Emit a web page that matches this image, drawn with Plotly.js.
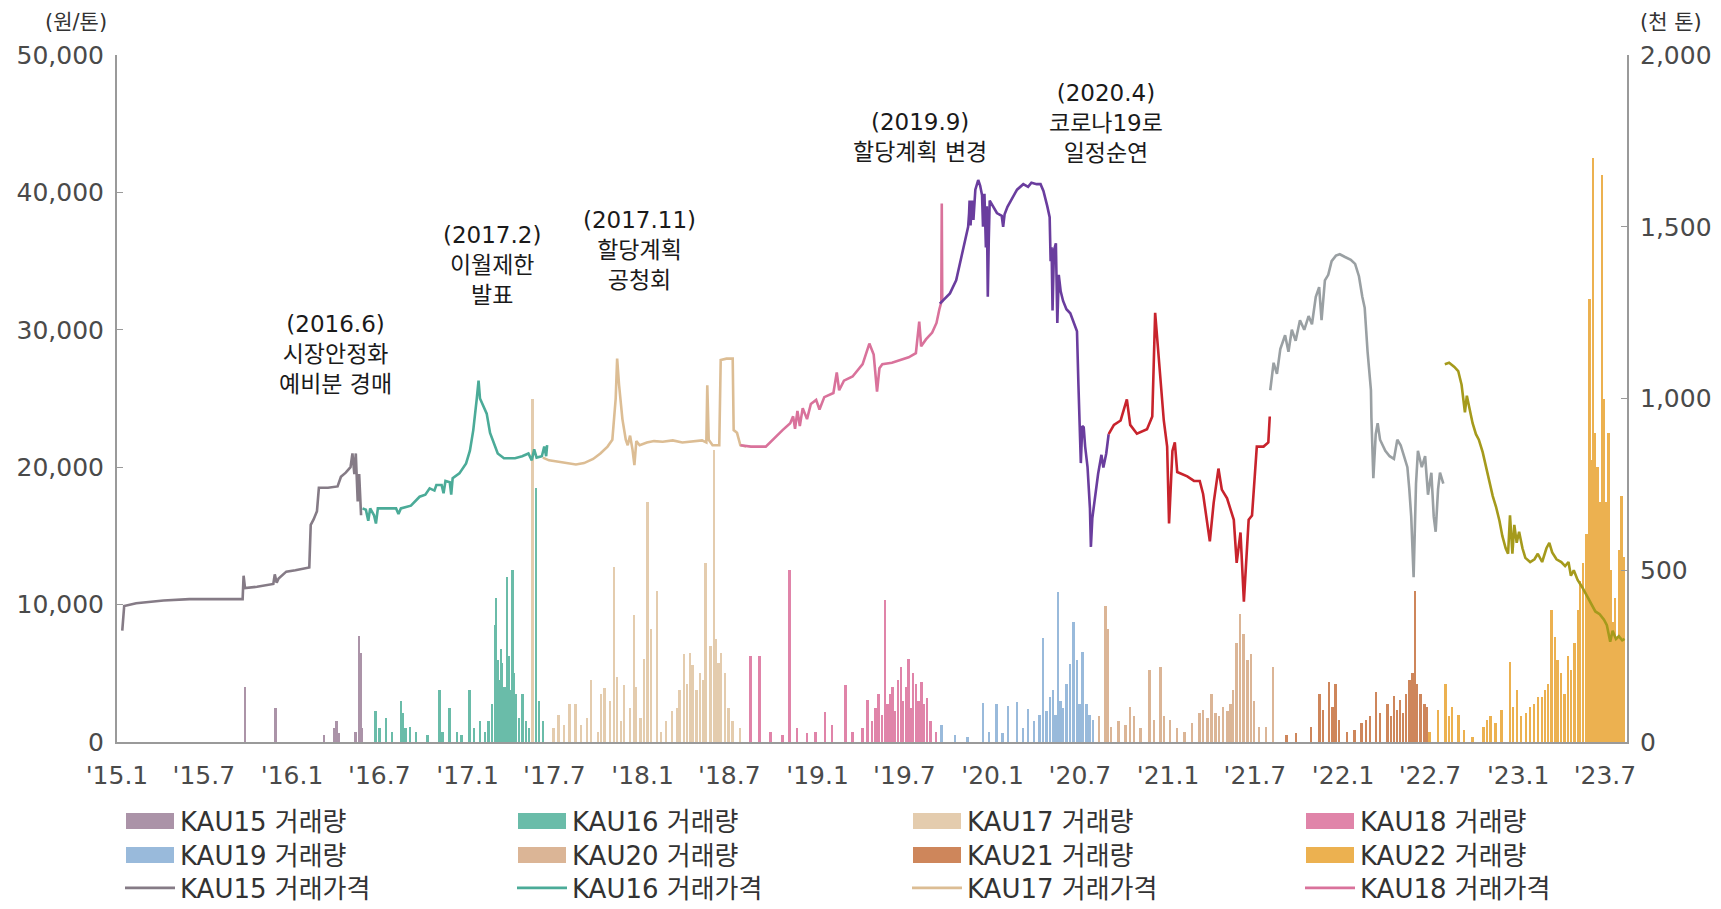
<!DOCTYPE html>
<html><head><meta charset="utf-8">
<script src="https://cdn.plot.ly/plotly-3.0.1.min.js"></script>
<style>html,body{margin:0;padding:0;overflow:hidden;background:#fff}#chart{width:1721px;height:909px}</style>
</head><body><div id="chart"></div>
<script>
// ---------------- DATA ----------------
const vintages = ['KAU15','KAU16','KAU17','KAU18','KAU19','KAU20','KAU21','KAU22'];
const xTickVals = ['2015-01-01','2015-07-01','2016-01-01','2016-07-01','2017-01-01','2017-07-01','2018-01-01','2018-07-01','2019-01-01','2019-07-01','2020-01-01','2020-07-01','2021-01-01','2021-07-01','2022-01-01','2022-07-01','2023-01-01','2023-07-01'];
const xTickText = ["'15.1","'15.7","'16.1","'16.7","'17.1","'17.7","'18.1","'18.7","'19.1","'19.7","'20.1","'20.7","'21.1","'21.7","'22.1","'22.7","'23.1","'23.7"];
const priceTicks = [0,10000,20000,30000,40000,50000];
const volTicks = [0,500,1000,1500,2000];

// price (원/톤)
const kau15PriceDates = ['2015-01-12','2015-01-16','2015-02-10','2015-04-08','2015-06-01','2015-08-01','2015-09-20','2015-09-22','2015-09-25','2015-10-20','2015-11-23','2015-11-26','2015-11-30','2015-12-04','2015-12-20','2016-01-08','2016-02-06','2016-02-09','2016-02-15','2016-02-22','2016-02-26','2016-03-16','2016-04-05','2016-04-12','2016-04-22','2016-05-02','2016-05-06','2016-05-10','2016-05-13','2016-05-17','2016-05-20','2016-05-24'];
const kau15Price = [8100,9900,10100,10300,10400,10400,10400,12100,11200,11300,11500,12200,11600,11900,12400,12500,12700,15800,16200,16800,18500,18500,18600,19300,19600,20000,21000,19500,21000,17500,19500,16500];

const kau16PriceDates = ['2016-05-27','2016-06-03','2016-06-08','2016-06-12','2016-06-20','2016-06-24','2016-06-28','2016-07-20','2016-08-05','2016-08-10','2016-08-15','2016-09-05','2016-09-23','2016-10-05','2016-10-14','2016-10-24','2016-10-28','2016-11-08','2016-11-12','2016-11-16','2016-11-25','2016-11-28','2016-12-01','2016-12-15','2016-12-29','2017-01-06','2017-01-13','2017-01-20','2017-01-24','2017-01-27','2017-02-03','2017-02-10','2017-02-17','2017-03-05','2017-03-18','2017-04-10','2017-04-25','2017-05-08','2017-05-15','2017-05-20','2017-05-25','2017-06-05','2017-06-10','2017-06-14','2017-06-16'];
const kau16Price = [17000,16900,16100,17000,16500,15900,17000,17000,17000,16600,17000,17200,17850,18000,18460,18300,18700,18700,18100,19000,18900,18000,19200,19550,20280,21200,22700,24900,26300,25000,24400,23900,22500,21000,20650,20650,20800,21000,20500,21300,20700,20800,21500,20800,21600];

const kau17PriceDates = ['2017-06-07','2017-06-20','2017-07-10','2017-07-25','2017-08-15','2017-09-01','2017-09-20','2017-10-05','2017-10-20','2017-10-30','2017-11-06','2017-11-09','2017-11-13','2017-11-20','2017-11-27','2017-12-01','2017-12-06','2017-12-11','2017-12-15','2017-12-19','2017-12-26','2018-01-10','2018-01-25','2018-02-12','2018-03-05','2018-03-25','2018-04-15','2018-05-05','2018-05-14','2018-05-16','2018-05-19','2018-05-27','2018-06-10','2018-06-13','2018-06-25','2018-07-08','2018-07-10','2018-07-17','2018-07-24','2018-08-05'];
const kau17Price = [20700,20500,20400,20300,20200,20300,20600,21000,21500,22000,25000,27900,26000,23500,22000,21600,22300,21300,20150,21900,21600,21800,21900,21850,21950,21800,21900,21950,21800,25970,22000,21600,21600,27800,27900,27900,22700,22500,21600,21500];

const kau18PriceDates = ['2018-07-24','2018-08-15','2018-09-15','2018-10-05','2018-10-20','2018-11-05','2018-11-11','2018-11-15','2018-11-20','2018-11-25','2018-12-01','2018-12-10','2018-12-18','2018-12-29','2019-01-05','2019-01-15','2019-02-03','2019-02-10','2019-02-15','2019-02-25','2019-03-15','2019-04-05','2019-04-19','2019-04-28','2019-05-05','2019-05-10','2019-05-16','2019-06-05','2019-06-21','2019-07-10','2019-07-25','2019-08-01','2019-08-05','2019-08-15','2019-08-28','2019-09-06','2019-09-12','2019-09-16','2019-09-17','2019-09-18'];
const kau18Price = [21600,21500,21500,22200,22700,23200,23700,22800,24100,23000,24300,23500,24600,24900,24200,25100,25400,26900,25600,26300,26600,27500,29000,28200,25500,27200,27500,27600,27800,28000,28300,30600,28800,29300,29800,30500,31500,32000,39200,32000];

const kau19PriceDates = ['2019-09-13','2019-10-04','2019-10-17','2019-11-01','2019-11-08','2019-11-11','2019-11-13','2019-11-14','2019-11-16','2019-11-19','2019-11-22','2019-11-26','2019-12-02','2019-12-06','2019-12-10','2019-12-12','2019-12-15','2019-12-18','2019-12-20','2019-12-22','2019-12-24','2019-12-26','2020-01-10','2020-01-20','2020-01-23','2020-01-26','2020-02-01','2020-02-12','2020-02-21','2020-03-05','2020-03-15','2020-03-22','2020-04-02','2020-04-10','2020-04-16','2020-04-24','2020-04-29','2020-05-01','2020-05-03','2020-05-05','2020-05-08','2020-05-12','2020-05-15','2020-05-18','2020-05-22','2020-05-27','2020-06-03','2020-06-11','2020-06-18','2020-06-25','2020-06-28','2020-07-01','2020-07-03','2020-07-06','2020-07-09','2020-07-12','2020-07-17','2020-07-22','2020-07-24','2020-07-27','2020-08-01','2020-08-08','2020-08-15','2020-08-19','2020-08-25','2020-08-30'];
const kau19Price = [31900,32650,33600,35800,37000,37500,38500,39400,37600,39400,38000,40200,40900,40500,39800,37500,39900,36000,39000,32400,36500,39400,38500,38300,37500,38400,38950,39700,40200,40600,40400,40700,40600,40600,40100,39000,38200,35000,36000,31400,35800,36300,30500,34000,32800,32100,31500,31200,30500,29900,26000,23200,20300,23000,22900,21500,20000,17000,14200,16300,17600,19500,20900,19970,21000,22400];

const kau20PriceDates = ['2020-08-30','2020-09-10','2020-09-24','2020-10-07','2020-10-14','2020-10-28','2020-11-18','2020-11-29','2020-12-05','2020-12-16','2020-12-23','2020-12-30','2021-01-03','2021-01-10','2021-01-15','2021-01-20','2021-02-10','2021-02-24','2021-03-08','2021-03-15','2021-03-29','2021-04-06','2021-04-16','2021-04-23','2021-05-04','2021-05-18','2021-05-24','2021-06-01','2021-06-08','2021-06-18','2021-06-25','2021-07-05','2021-07-19','2021-07-29','2021-08-01'];
const kau20Price = [22400,23080,23400,24940,23080,22440,22760,23690,31230,26200,23400,21500,15900,21190,21800,19650,19330,19000,19000,18050,14600,17400,19900,18370,17730,16170,13040,15250,10220,16170,16490,21500,21500,21800,23690];

const kau21PriceDates = ['2021-08-02','2021-08-09','2021-08-16','2021-08-23','2021-09-02','2021-09-09','2021-09-16','2021-09-24','2021-10-03','2021-10-12','2021-10-21','2021-10-28','2021-11-05','2021-11-12','2021-11-17','2021-11-24','2021-12-01','2021-12-08','2021-12-17','2021-12-25','2022-01-05','2022-01-17','2022-01-26','2022-02-03','2022-02-10','2022-02-15','2022-02-21','2022-02-28','2022-03-01','2022-03-05','2022-03-10','2022-03-14','2022-03-19','2022-03-30','2022-04-08','2022-04-17','2022-04-24','2022-05-01','2022-05-08','2022-05-15','2022-05-19','2022-05-23','2022-05-28','2022-06-02','2022-06-06','2022-06-14','2022-06-21','2022-06-27','2022-07-04','2022-07-09','2022-07-13','2022-07-18','2022-07-22','2022-07-29'];
const kau21Price = [25600,27600,26800,28600,29600,28400,30000,29200,30700,30000,31000,30400,32400,33100,30700,33600,34000,35000,35400,35500,35300,35100,34800,33900,32400,31600,28400,25600,23600,19200,22400,23200,22000,21200,20800,20600,22000,21600,20800,20000,18400,16400,12000,18800,21200,20000,20800,18000,19600,16400,15300,18400,19600,18800];

const kau22PriceDates = ['2022-08-01','2022-08-10','2022-08-21','2022-08-29','2022-09-05','2022-09-12','2022-09-16','2022-09-28','2022-10-05','2022-10-11','2022-10-19','2022-10-26','2022-11-02','2022-11-09','2022-11-16','2022-11-23','2022-11-29','2022-12-06','2022-12-11','2022-12-15','2022-12-20','2022-12-24','2022-12-29','2023-01-03','2023-01-10','2023-01-16','2023-01-26','2023-02-04','2023-02-11','2023-02-20','2023-03-01','2023-03-07','2023-03-13','2023-03-22','2023-04-01','2023-04-09','2023-04-16','2023-04-21','2023-04-27','2023-05-05','2023-05-14','2023-05-23','2023-06-01','2023-06-11','2023-06-20','2023-06-29','2023-07-05','2023-07-12','2023-07-17','2023-07-24','2023-07-30','2023-08-06','2023-08-11'];
const kau22Price = [27500,27600,27300,27000,26000,24000,25200,23200,22400,22000,21100,20000,18800,17900,17100,16100,15000,14100,13700,16500,13700,15800,14500,15300,14100,13400,13100,13300,13700,13100,14100,14500,13800,13300,13100,12800,13100,12100,12500,11800,11300,10700,10100,9500,9300,8900,8500,7300,8100,7500,7700,7400,7500];

// volume (천 톤)
const kau15VolDates = ['2015-09-25','2015-11-28','2016-03-08','2016-03-29','2016-04-03','2016-04-08','2016-05-13','2016-05-20','2016-05-24','2016-05-27'];
const kau15Vol = [160,100,20,40,60,25,30,310,260,40];

const kau16VolDates = ['2016-06-24','2016-07-02','2016-07-15','2016-07-28','2016-08-16','2016-08-19','2016-08-25','2016-09-03','2016-09-16','2016-10-10','2016-11-04','2016-11-10','2016-11-25','2016-12-10','2016-12-20','2017-01-06','2017-01-15','2017-01-27','2017-02-07','2017-02-14','2017-02-22','2017-02-28','2017-03-02','2017-03-05','2017-03-08','2017-03-12','2017-03-15','2017-03-20','2017-03-25','2017-03-28','2017-04-01','2017-04-05','2017-04-08','2017-04-12','2017-04-19','2017-04-26','2017-05-03','2017-05-10','2017-05-24','2017-05-31','2017-06-08'];
const kau16Vol = [90,40,70,30,120,85,40,45,30,20,150,30,100,30,20,150,40,60,30,60,110,340,420,240,180,270,230,160,480,250,150,500,200,140,70,140,60,40,740,120,60];

const kau17VolDates = ['2017-05-17','2017-06-30','2017-07-10','2017-07-22','2017-08-02','2017-08-15','2017-08-26','2017-09-08','2017-09-16','2017-10-01','2017-10-07','2017-10-14','2017-10-26','2017-11-03','2017-11-09','2017-11-18','2017-11-24','2017-12-06','2017-12-15','2017-12-19','2017-12-28','2018-01-04','2018-01-12','2018-01-19','2018-02-01','2018-02-09','2018-02-20','2018-03-04','2018-03-14','2018-03-20','2018-03-29','2018-04-04','2018-04-11','2018-04-16','2018-04-24','2018-05-01','2018-05-09','2018-05-13','2018-05-23','2018-05-30','2018-06-04','2018-06-09','2018-06-14','2018-06-23','2018-06-30','2018-07-08','2018-07-24'];
const kau17Vol = [1000,40,80,50,112,110,50,70,180,30,140,156,120,510,190,60,166,100,370,160,70,243,700,330,440,30,60,90,100,150,257,170,260,223,150,200,180,520,280,850,300,230,258,200,100,60,40];

const kau18VolDates = ['2018-08-15','2018-09-02','2018-09-25','2018-10-20','2018-11-04','2018-11-20','2018-12-10','2018-12-28','2019-01-17','2019-02-01','2019-03-01','2019-03-15','2019-04-05','2019-04-16','2019-04-25','2019-05-02','2019-05-09','2019-05-16','2019-05-22','2019-05-27','2019-06-02','2019-06-07','2019-06-12','2019-06-18','2019-06-24','2019-06-29','2019-07-05','2019-07-10','2019-07-14','2019-07-20','2019-07-26','2019-07-31','2019-08-06','2019-08-12','2019-08-18','2019-08-25','2019-09-05'];
const kau18Vol = [250,250,30,20,500,40,25,30,86,50,166,30,40,122,60,100,141,80,412,110,140,160,90,180,218,120,160,243,100,200,170,120,175,110,127,60,30];

const kau19VolDates = ['2019-09-17','2019-10-15','2019-11-10','2019-12-12','2019-12-25','2020-01-10','2020-01-22','2020-02-03','2020-02-21','2020-03-05','2020-03-15','2020-03-28','2020-04-08','2020-04-16','2020-04-23','2020-04-30','2020-05-07','2020-05-12','2020-05-17','2020-05-22','2020-05-27','2020-06-04','2020-06-11','2020-06-18','2020-06-25','2020-07-01','2020-07-07','2020-07-15','2020-07-22','2020-07-29'];
const kau19Vol = [49,20,15,113,30,110,25,105,117,40,95,60,80,302,90,130,150,80,436,120,100,170,228,349,238,110,262,112,80,64];

const kau20VolDates = ['2020-08-10','2020-08-24','2020-08-29','2020-09-05','2020-09-20','2020-10-05','2020-10-14','2020-10-22','2020-11-05','2020-11-24','2020-12-03','2020-12-17','2020-12-24','2021-01-05','2021-01-20','2021-02-05','2021-02-20','2021-03-08','2021-03-15','2021-03-25','2021-04-02','2021-04-10','2021-04-18','2021-04-26','2021-05-05','2021-05-12','2021-05-17','2021-05-24','2021-06-01','2021-06-08','2021-06-16','2021-06-23','2021-06-30','2021-07-10','2021-07-25','2021-08-08'];
const kau20Vol = [75,397,330,45,60,50,102,75,40,209,64,218,75,64,40,30,55,85,93,70,141,85,75,102,90,112,150,287,373,315,238,257,120,45,45,218];

const kau21VolDates = ['2021-09-05','2021-09-25','2021-10-26','2021-11-13','2021-11-20','2021-12-03','2021-12-10','2021-12-17','2021-12-24','2022-01-10','2022-01-25','2022-02-09','2022-02-18','2022-02-26','2022-03-11','2022-03-20','2022-04-04','2022-04-11','2022-04-18','2022-04-24','2022-04-30','2022-05-06','2022-05-13','2022-05-20','2022-05-26','2022-05-31','2022-06-05','2022-06-12','2022-06-20','2022-06-25'];
const kau21Vol = [20,25,45,141,93,175,102,170,64,30,35,55,64,75,146,85,112,75,135,93,123,85,141,180,200,441,170,141,112,102];

const kau22VolDates = ['2022-07-01','2022-07-18','2022-08-03','2022-08-10','2022-08-17','2022-08-30','2022-09-10','2022-09-28','2022-10-21','2022-10-28','2022-11-05','2022-11-15','2022-11-28','2022-12-16','2022-12-22','2022-12-30','2023-01-08','2023-01-18','2023-01-26','2023-02-04','2023-02-12','2023-02-20','2023-02-27','2023-03-05','2023-03-12','2023-03-19','2023-03-25','2023-04-01','2023-04-08','2023-04-15','2023-04-22','2023-04-29','2023-05-06','2023-05-10','2023-05-17','2023-05-24','2023-05-30','2023-06-04','2023-06-07','2023-06-11','2023-06-16','2023-06-21','2023-06-25','2023-06-30','2023-07-04','2023-07-09','2023-07-13','2023-07-18','2023-07-22','2023-07-27','2023-08-01','2023-08-05','2023-08-10'];
const kau22Vol = [30,93,170,75,102,78,35,15,45,64,75,55,93,233,102,152,75,85,102,112,130,130,152,170,383,306,238,200,141,250,210,287,383,470,520,605,1290,820,1700,900,800,700,1650,1000,700,900,500,350,420,300,560,715,540];

// ---------------- STYLE ----------------
const volColors = ['#a3889f','#5ab5a0','#e2c7a6','#dd77a0','#8fb3d8','#d8ad8b','#c97a4a','#eaa93e'];
const priceColors = ['#857b86','#4bab98','#dcbd94','#d9729b','#6a3d9e','#c8232c','#9aa0a3','#a59a1c'];
const FONT = 'DejaVu Sans, Noto Sans CJK KR, sans-serif';
const W = 1721, H = 909, L = 117, R = 1627, T = 55, B = 742;
const legendColX = [120, 512, 907, 1300];   // px, legend box left per column
const legendRowY = [821, 855, 888];         // px, legend row centre (the source's 4th row is cut off by the page edge)

const priceDates = [kau15PriceDates,kau16PriceDates,kau17PriceDates,kau18PriceDates,kau19PriceDates,kau20PriceDates,kau21PriceDates,kau22PriceDates];
const priceVals = [kau15Price,kau16Price,kau17Price,kau18Price,kau19Price,kau20Price,kau21Price,kau22Price];
const volDates = [kau15VolDates,kau16VolDates,kau17VolDates,kau18VolDates,kau19VolDates,kau20VolDates,kau21VolDates,kau22VolDates];
const volVals = [kau15Vol,kau16Vol,kau17Vol,kau18Vol,kau19Vol,kau20Vol,kau21Vol,kau22Vol];

const legendId = k => k === 0 ? 'legend' : 'legend' + (k + 1);
const traces = [];
vintages.forEach((v,i)=>{
  const k = (i < 4 ? 0 : 1) * 4 + i % 4;
  traces.push({type:'bar', name: v+' 거래량', x: volDates[i], y: volVals[i], yaxis:'y',
    width: 4*86400000, marker:{color: volColors[i], line:{width:0}}, opacity:0.9,
    legend: legendId(k), hoverinfo:'x+y'});
});
vintages.forEach((v,i)=>{
  const k = 2 * 4 + i % 4;
  traces.push({type:'scatter', mode:'lines', name: v+' 거래가격', x: priceDates[i], y: priceVals[i], yaxis:'y2',
    line:{color: priceColors[i], width:2.6}, legend: legendId(k), showlegend: i < 4});
});

const px = x => (x - L)/(R - L);
const py = y => (B - y)/(B - T);
const notes = [
  ['(2016.6)<br>시장안정화<br>예비분 경매', 335, 354],
  ['(2017.2)<br>이월제한<br>발표', 492, 265],
  ['(2017.11)<br>할당계획<br>공청회', 639, 250],
  ['(2019.9)<br>할당계획 변경', 920, 137],
  ['(2020.4)<br>코로나19로<br>일정순연', 1106, 123]
];
const annotations = notes.map(a=>({text:a[0], x:px(a[1]), y:py(a[2]), xref:'paper', yref:'paper',
  showarrow:false, xanchor:'center', yanchor:'middle', align:'center', font:{family:FONT,size:23,color:'#1a1a1a'}}));
annotations.push({text:'(원/톤)', x:px(76), y:py(22), xref:'paper', yref:'paper', showarrow:false, xanchor:'center', yanchor:'middle', font:{family:FONT,size:21,color:'#333'}});
annotations.push({text:'(천 톤)', x:px(1671), y:py(22), xref:'paper', yref:'paper', showarrow:false, xanchor:'center', yanchor:'middle', font:{family:FONT,size:21,color:'#333'}});

const axisFont = {family:FONT, size:25, color:'#4a4a4a'};
const layout = {
  width: W, height: H,
  margin: {l:L, r:W-R, t:T, b:H-B, pad:0},
  paper_bgcolor:'#fff', plot_bgcolor:'#fff',
  barmode:'overlay', bargap:0,
  showlegend:true,
  xaxis: {type:'date', range:['2015-01-01','2023-08-16'], tickmode:'array', tickvals:xTickVals, ticktext:xTickText,
    showgrid:false, zeroline:false, showline:true, linecolor:'#9a9a9a', linewidth:2, ticks:'', tickfont:axisFont, ticklabelstandoff:10},
  yaxis: {range:[0,2000], side:'right', tickmode:'array', tickvals:volTicks, tickformat:',', showgrid:false, zeroline:false,
    showline:true, linecolor:'#9a9a9a', linewidth:2, ticks:'inside', ticklen:6, tickcolor:'#9a9a9a', tickfont:axisFont, ticklabelstandoff:6},
  yaxis2: {range:[0,50000], side:'left', overlaying:'y', tickmode:'array', tickvals:priceTicks, tickformat:',', showgrid:false, zeroline:false,
    showline:true, linecolor:'#9a9a9a', linewidth:2, ticks:'inside', ticklen:6, tickcolor:'#9a9a9a', tickfont:axisFont, ticklabelstandoff:6},
  annotations: annotations
};
for (let r = 0; r < 3; r++) {
  for (let c = 0; c < 4; c++) {
    layout[legendId(r*4 + c)] = {orientation:'h', xref:'container', yref:'container',
      x: legendColX[c]/W, xanchor:'left', y:(H - legendRowY[r])/H, yanchor:'middle',
      font:{family:FONT,size:26,color:'#333'}, bgcolor:'rgba(0,0,0,0)', itemwidth:50};
  }
}
function widenSwatches(gd){
  // widen the bar swatches in the legend to match the source's wide colour chips
  gd.querySelectorAll('g.legendpoints path').forEach(p => {
    const d = p.getAttribute('d') || '';
    if (p.classList.contains('legendbar') || d.indexOf('M6,6H-6V-6H6Z') === 0) p.setAttribute('d', 'M24,8H-24V-8H24Z');
  });
}
Plotly.newPlot('chart', traces, layout, {displayModeBar:false, responsive:false}).then(gd => {
  widenSwatches(gd);
  gd.on('plotly_afterplot', () => widenSwatches(gd));
  setTimeout(() => widenSwatches(gd), 50);
});
</script>
</body></html>
